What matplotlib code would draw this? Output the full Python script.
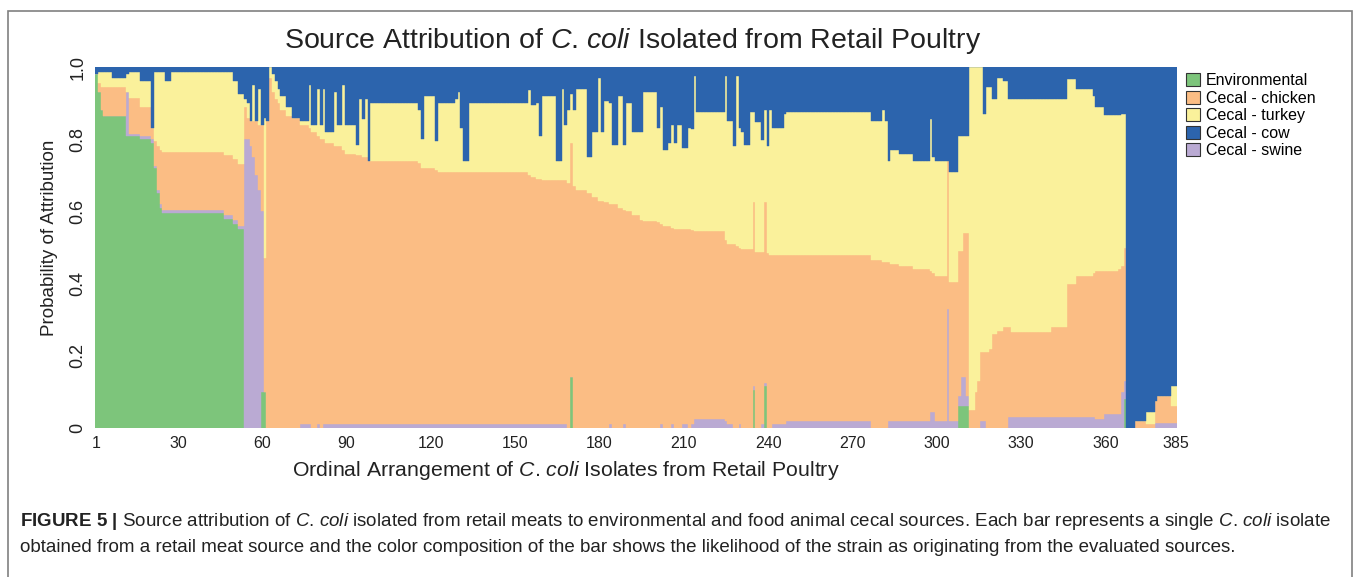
import numpy as np
import matplotlib
matplotlib.use("Agg")
import matplotlib.pyplot as plt
from matplotlib.patches import Patch, Rectangle

plt.rcParams['font.family'] = ['Liberation Sans', 'DejaVu Sans']
plt.rcParams['mathtext.fontset'] = 'custom'
plt.rcParams['mathtext.rm'] = 'Liberation Sans'
plt.rcParams['mathtext.it'] = 'Liberation Sans:italic'
plt.rcParams['mathtext.bf'] = 'Liberation Sans:bold'

n_isolates = 385

# stacked bottom -> top: environmental, swine, chicken, turkey, cow
# each run covers the isolates from run_start[i] up to the next start
run_start = [1, 2, 3, 4, 7, 12, 13, 17, 21, 22, 23, 24, 25, 26, 28, 47, 50, 52,
             54, 55, 56, 57, 58, 59, 60, 61, 62, 63, 64, 65, 66, 67, 69, 71, 74,
             77, 78, 80, 81, 82, 83, 86, 87, 89, 90, 94, 95, 96, 97, 98, 99, 116,
             117, 118, 122, 123, 129, 130, 131, 132, 134, 155, 156, 158, 159, 160,
             165, 167, 168, 169, 170, 171, 172, 176, 178, 180, 181, 182, 184, 185,
             187, 189, 190, 192, 195, 196, 201, 202, 203, 205, 206, 207, 208, 210,
             212, 213, 214, 215, 225, 226, 228, 229, 230, 231, 232, 234, 235, 236,
             238, 239, 240, 241, 242, 246, 247, 277, 281, 282, 283, 284, 287, 292,
             298, 299, 300, 304, 305, 308, 309, 310, 311, 312, 314, 315, 316, 317,
             318, 319, 320, 322, 324, 326, 327, 341, 347, 350, 356, 357, 360, 365,
             366, 367, 368, 371, 375, 378, 379, 384]

environmental = [.98, .93, .88, .865, .865, .81, .81, .80, .79, .72, .65, .61, .595, .595, .595, .58, .565, .55,
                 0, 0, 0, 0, 0, 0, .10, .10, 0, 0, 0, 0, 0, 0, 0, 0, 0,
                 0, 0, 0, 0, 0, 0, 0, 0, 0, 0, 0, 0, 0, 0, 0, 0, 0,
                 0, 0, 0, 0, 0, 0, 0, 0, 0, 0, 0, 0, 0, 0,
                 0, 0, 0, 0, .14, 0, 0, 0, 0, 0, 0, 0, 0, 0,
                 0, 0, 0, 0, 0, 0, 0, 0, 0, 0, 0, 0, 0, 0,
                 0, 0, 0, 0, 0, 0, 0, 0, 0, 0, 0, 0, .105, 0,
                 0, .115, 0, 0, 0, 0, 0, 0, 0, 0, 0, 0, 0, 0,
                 0, 0, 0, 0, 0, .06, .06, .06, .06, 0, 0, 0, 0, 0,
                 0, 0, 0, 0, 0, 0, 0, 0, 0, 0, 0, 0, 0, 0,
                 0, .08, 0, 0, 0, 0, 0, 0]

swine = [0, 0, 0, 0, 0, .12, .005, .01, .01, .005, .01, .01, .01, .01, .01, .01, .01, .01,
         .80, .80, .78, .75, .70, .66, .50, 0, 0, 0, 0, 0, 0, 0, 0, 0, .01,
         .01, 0, .01, 0, .01, .01, .01, .01, .01, .01, .01, .01, .01, .01, .01, .01, .01,
         .01, .01, .01, .01, .01, .01, .01, .01, .01, .01, .01, .01, .01, .01,
         .01, .01, .01, 0, 0, 0, 0, 0, 0, 0, 0, 0, .01, 0,
         0, .01, 0, 0, 0, 0, 0, .01, 0, 0, .01, 0, 0, .01,
         0, .01, .025, .025, .02, .01, 0, 0, .01, 0, 0, 0, .01, 0,
         .01, .01, 0, 0, .01, .01, .02, 0, 0, 0, .02, .02, .02, .02,
         .045, .045, .02, .33, .02, .03, .08, .08, .03, 0, 0, 0, .02, .02,
         0, 0, 0, 0, 0, .03, .03, .03, .03, .03, .03, .025, .04, .04,
         .10, .05, 0, 0, 0, .015, .015, .015]

chicken = [0, .025, .065, .08, .08, 0, .10, .08, .03, .07, .12, .15, .16, .16, .16, .165, .17, .17,
           .09, .06, .07, .10, .15, .18, .24, .37, .85, .97, .93, .91, .90, .88, .865, .86, .83,
           .82, .82, .80, .80, .79, .78, .77, .77, .76, .75, .745, .745, .74, .74, .73, .73, .725,
           .71, .71, .705, .70, .70, .70, .70, .70, .70, .69, .685, .68, .68, .676,
           .676, .676, .676, .68, .65, .67, .66, .65, .64, .63, .63, .625, .61, .62,
           .61, .595, .60, .59, .575, .573, .57, .555, .56, .56, .545, .55, .55, .54,
           .55, .538, .52, .52, .50, .50, .51, .505, .49, .495, .495, .495, .51, .488,
           .478, .50, .485, .48, .468, .468, .46, .465, .46, .46, .44, .435, .43, .42,
           .39, .385, .40, .41, .385, .40, .35, .40, .45, .05, .10, .13, .19, .19,
           .21, .22, .26, .27, .28, .25, .235, .25, .37, .39, .40, .41, .395, .40,
           .35, .37, 0, .02, .01, .06, .075, .045]

turkey = [0, .03, .04, .04, .025, .05, .07, .07, 0, .19, .205, .215, .22, .195, .22, .23, .215, .195,
          .02, .04, 0, .10, 0, .10, 0, .39, 0, .03, .05, .05, .04, .04, .025, 0, .01,
          .12, .02, .13, .04, .14, .03, .15, .06, .18, .08, .03, .155, .105, .16, 0, .16, .145,
          .08, .20, .08, .19, .20, .22, .12, .03, .19, .235, .20, .21, .12, .234,
          .054, .254, .154, .20, .135, .21, .28, .10, .18, .34, .19, .28, .28, .165,
          .31, .18, .30, .23, .245, .357, .26, .325, .21, .23, .285, .24, .29, .225,
          .28, .28, .43, .33, .455, .34, .27, .47, .33, .325, .29, .38, .25, .36,
          .31, .255, .295, .40, .352, .392, .395, .385, .42, .39, .28, .315, .31, .30,
          .42, .32, .32, 0, .305, .32, .32, .27, .27, .95, .90, .87, .79, .66,
          .735, .725, .65, .70, .68, .63, .645, .63, .567, .52, .49, .455, .432, .427,
          .42, .37, 0, 0, .035, 0, 0, .055]

cow = [.02, .015, .015, .015, .03, .02, .015, .04, .17, .015, .015, .015, .015, .04, .015, .015, .04, .075,
       .09, .10, .15, .05, .15, .06, .16, .14, .15, 0, .02, .04, .06, .08, .11, .14, .15,
       .05, .16, .06, .16, .06, .18, .07, .16, .05, .16, .215, .09, .145, .09, .26, .10, .12,
       .20, .08, .205, .10, .09, .07, .17, .26, .10, .065, .105, .10, .19, .08,
       .26, .06, .16, .12, .075, .12, .06, .25, .18, .03, .18, .095, .10, .215,
       .08, .215, .10, .18, .18, .07, .17, .11, .23, .21, .16, .21, .16, .225,
       .17, .172, .025, .125, .025, .15, .22, .025, .17, .18, .215, .125, .125, .152,
       .202, .12, .22, .12, .17, .13, .125, .15, .12, .15, .26, .23, .24, .26,
       .145, .25, .26, .26, .29, .19, .19, .19, .19, 0, 0, 0, 0, .13,
       .055, .055, .09, .03, .04, .09, .09, .09, .033, .06, .08, .11, .133, .133,
       .13, .13, 1.0, .98, .955, .925, .91, .885]

legend_labels = ["Environmental", "Cecal - chicken", "Cecal - turkey", "Cecal - cow", "Cecal - swine"]
tick_labels = [1, 30, 60, 90, 120, 150, 180, 210, 240, 270, 300, 330, 360, 385]

c_env = "#7dc57b"
c_chicken = "#fbbd84"
c_turkey = "#faf19b"
c_cow = "#2c64ad"
c_swine = "#baaad3"

runs = np.diff(run_start + [n_isolates + 1])
x = np.arange(1, n_isolates + 1)

fig = plt.figure(figsize=(13.58, 5.77), dpi=100)
W, H = 1358, 577
ax = fig.add_axes([95 / W, 1 - 428 / H, (1177 - 95) / W, (428 - 67) / H])

bottom = np.zeros(n_isolates)
for vals, col in [(environmental, c_env), (swine, c_swine), (chicken, c_chicken),
                  (turkey, c_turkey), (cow, c_cow)]:
    h = np.repeat(np.array(vals, dtype=float), runs)
    ax.bar(x, h, bottom=bottom, width=1.0, color=col, edgecolor=col, linewidth=0.3)
    bottom += h

ax.set_xlim(0.5, n_isolates + 0.5)
ax.set_ylim(0, 1)
for s in ax.spines.values():
    s.set_visible(False)

ax.set_xticks(tick_labels)
ax.set_xticklabels([str(t) for t in tick_labels])
ax.set_xticks([270, 300], minor=True)
ax.tick_params(axis='x', which='major', length=0, pad=6, labelsize=11.5, labelcolor='#222222')
ax.tick_params(axis='x', which='minor', length=4, width=0.8, color='#555555')
ax.set_yticks([0, 0.2, 0.4, 0.6, 0.8, 1.0])
ax.set_yticklabels(['0', '0.2', '0.4', '0.6', '0.8', '1.0'], rotation=90, va='center')
ax.tick_params(axis='y', length=0, pad=6, labelsize=13, labelcolor='#222222')

cc = r"$\it{C}$. $\it{coli}$"
fig.text(633 / W, 1 - 41 / H, "Source Attribution of " + cc + " Isolated from Retail Poultry",
         ha='center', va='center', fontsize=20.5, color='#222222')
fig.text(566 / W, 1 - 470 / H, "Ordinal Arrangement of " + cc + " Isolates from Retail Poultry",
         ha='center', va='center', fontsize=15.3, color='#222222')
fig.text(50 / W, 1 - 238 / H, "Probability of Attribution", rotation=90,
         ha='center', va='center', fontsize=13.5, color='#222222')

handles = [Patch(facecolor=c, edgecolor='#333333', linewidth=0.8)
           for c in [c_env, c_chicken, c_turkey, c_cow, c_swine]]
fig.legend(handles, legend_labels, loc='upper left', bbox_to_anchor=(1186 / W, 1 - 73 / H),
           frameon=False, fontsize=11.5, handlelength=0.9, handleheight=0.9,
           handletextpad=0.35, labelspacing=0.15, borderpad=0, borderaxespad=0)

# caption
fig.text(20 / W, 1 - 521 / H,
         r"$\mathbf{FIGURE}$ $\mathbf{5}$ $\mathbf{|}$ Source attribution of " + cc +
         " isolated from retail meats to environmental and food animal cecal sources. "
         "Each bar represents a single " + cc + " isolate",
         ha='left', va='center', fontsize=13.5, color='#222222')
fig.text(20 / W, 1 - 547 / H,
         "obtained from a retail meat source and the color composition of the bar shows the likelihood "
         "of the strain as originating from the evaluated sources.",
         ha='left', va='center', fontsize=13.5, color='#222222')

fig.patches.append(Rectangle((8 / W, -0.05), (1352 - 8) / W, 1.05 - 11 / H, transform=fig.transFigure,
                             fill=False, edgecolor='#808080', linewidth=1.2))

fig.savefig("out.png", dpi=100)
